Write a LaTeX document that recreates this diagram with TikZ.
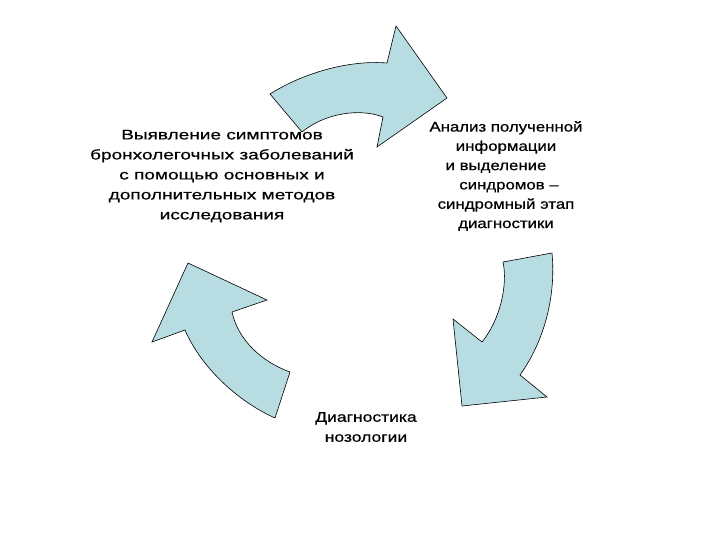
\documentclass[tikz,border=0pt]{standalone}
\usepackage{fontspec}
\setmainfont{Liberation Sans}
\newfontfamily\linksschrift[FakeStretch=1.36,FakeBold=0.6]{Liberation Sans}
\newfontfamily\rechtsschrift[FakeStretch=1.2,FakeBold=0.6]{Liberation Sans}
\newfontfamily\untenschrift[FakeStretch=1.25,FakeBold=0.6]{Liberation Sans}
\definecolor{pfeilblau}{RGB}{183,221,227}
\begin{document}
\begin{tikzpicture}[x=1pt,y=-1pt,
  pfeil/.style={fill=pfeilblau,draw=black,line width=0.6pt,line join=miter},
  stufe/.style={align=center,inner sep=0pt}]
\useasboundingbox (0,0) rectangle (720,540);
% Pfeil oben (nach rechts)
\coordinate (Ta) at (270, 94);
\coordinate (Tb) at (387, 63);
\coordinate (Tc) at (396, 26);
\coordinate (Td) at (447, 98);
\coordinate (Te) at (377,147);
\coordinate (Tf) at (383,117);
\coordinate (Tg) at (302,132);
% Pfeil rechts (nach unten)
\coordinate (Ra) at (503,262);
\coordinate (Rb) at (552,253);
\coordinate (Rc) at (520,375);
\coordinate (Rd) at (547,397);
\coordinate (Re) at (462,406);
\coordinate (Rf) at (453,319);
\coordinate (Rg) at (482,342);
% Pfeil links (nach oben)
\coordinate (La) at (290,372);
\coordinate (Lb) at (275,418);
\coordinate (Lc) at (185,330);
\coordinate (Ld) at (152,342);
\coordinate (Le) at (188,263);
\coordinate (Lf) at (267,300);
\coordinate (Lg) at (232,312);
% Pfeile zeichnen
\draw[pfeil] (Ta) .. controls (305,72) and (350,60) .. (Tb) -- (Tc) -- (Td) -- (Te) -- (Tf)
  .. controls (360,108) and (325,113) .. (Tg) -- cycle;
\draw[pfeil] (Ra) -- (Rb) .. controls (556,295) and (545,340) .. (Rc) -- (Rd) -- (Re) -- (Rf) -- (Rg)
  .. controls (500,320) and (508,285) .. (Ra) -- cycle;
\draw[pfeil] (La) -- (Lb) .. controls (235,400) and (200,365) .. (Lc) -- (Ld) -- (Le) -- (Lf) -- (Lg)
  .. controls (238,340) and (262,362) .. (La) -- cycle;
% Beschriftungen
\node[stufe,font=\linksschrift\fontsize{14}{20}\selectfont] (symptome) at (222,176)
  {Выявление симптомов\\бронхолегочных заболеваний\\с помощью основных и\\дополнительных методов\\исследования};
\node[stufe,font=\rechtsschrift\fontsize{14}{19.3}\selectfont] (analyse) at (506,176)
  {Анализ полученной\\информации\\и выделение\hbox to 20pt{}\\\hbox to 6pt{}синдромов –\\синдромный этап\\диагностики};
\node[stufe,font=\untenschrift\fontsize{14}{20}\selectfont] (nosologie) at (366,427)
  {Диагностика\\нозологии};
\end{tikzpicture}
\end{document}
